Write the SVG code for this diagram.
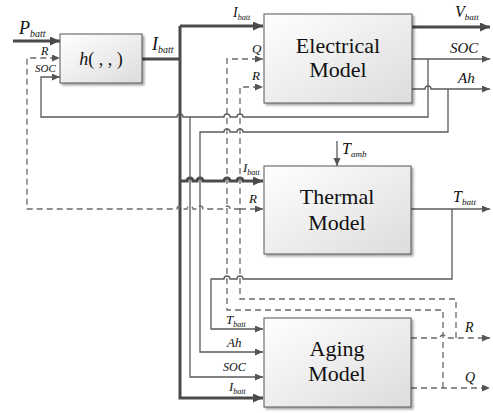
<svg xmlns="http://www.w3.org/2000/svg" width="493" height="413" viewBox="0 0 493 413">
<defs>
<linearGradient id="boxfill" x1="0" y1="0" x2="1" y2="1">
<stop offset="0" stop-color="#ffffff"/>
<stop offset="1" stop-color="#dcdcdc"/>
</linearGradient>
<filter id="shadow" x="-10%" y="-10%" width="130%" height="130%">
<feDropShadow dx="2" dy="2" stdDeviation="1" flood-color="#000" flood-opacity="0.35"/>
</filter>
<marker id="arr" markerUnits="userSpaceOnUse" markerWidth="9" markerHeight="8" refX="8" refY="3.5" orient="auto">
<path d="M0,0 L8,3.5 L0,7 Z" fill="#555"/>
</marker>
<marker id="arrT" markerUnits="userSpaceOnUse" markerWidth="12" markerHeight="10" refX="10" refY="4.5" orient="auto">
<path d="M0,0 L10,4.5 L0,9 Z" fill="#4a4a4a"/>
</marker>
</defs>
<style>
.box{fill:url(#boxfill);stroke:#555;stroke-width:1;filter:url(#shadow)}
.thin{fill:none;stroke:#5a5a5a;stroke-width:1.3}
.thick{fill:none;stroke:#4a4a4a;stroke-width:3}
.dash{fill:none;stroke:#6a6a6a;stroke-width:1.3;stroke-dasharray:6,4}
.a{marker-end:url(#arr)}
.at{marker-end:url(#arrT)}
text{font-family:"Liberation Serif","Times New Roman",serif;fill:#111}
.it{font-style:italic}
.big{font-size:22px;text-anchor:middle}
</style>

<g id="connectors">
<path class="thick at" d="M13,41 H60"/>
<path class="thick" d="M142,59 H180"/>
<path class="thick at" d="M180,26 H263"/>
<path class="thick at" d="M180,26 V398 H263"/>
<path class="thick at" d="M180,181 H187 A3,3 0 0 1 193,181 H197 A3,3 0 0 1 203,181 H224 A3,3 0 0 1 230,181 H237 A3,3 0 0 1 243,181 H263"/>
<path class="thick at" d="M412,27 H490"/>
<path class="thin a" d="M412,59 H490"/>
<path class="thin a" d="M428,59 V117 H243 A3,3 0 0 0 237,117 H230 A3,3 0 0 0 224,117 H183 A3,3 0 0 0 177,117 H41 V77 H60"/>
<path class="thin a" d="M190,117 V377 H263"/>
<path class="thin a" d="M412,89 H425 A3,3 0 0 1 431,89 H490"/>
<path class="thin a" d="M448,89 V132 H243 A3,3 0 0 0 237,132 H230 A3,3 0 0 0 224,132 H200 V352 H263"/>
<path class="thin a" d="M411,209 H490"/>
<path class="thin a" d="M452,209 V279 H243 A3,3 0 0 0 237,279 H230 A3,3 0 0 0 224,279 H211 V329 H263"/>
<path class="thin a" d="M337,141 V166"/>
<path class="dash a" d="M411,388 H490"/>
<path class="dash a" d="M443,388 V310 H227 V59 H263"/>
<path class="dash a" d="M411,338 H440 A3,3 0 0 1 446,338 H490"/>
<path class="dash a" d="M456,338 V299 H240 V87 H263"/>
<path class="dash a" d="M240,209 H263"/>
<path class="dash a" d="M240,209 H230 A3,3 0 0 0 224,209 H203 A3,3 0 0 0 197,209 H193 A3,3 0 0 0 187,209 H183 A3,3 0 0 0 177,209 H27 V58 H60"/>
</g>

<g id="h-block">
<rect class="box" x="60" y="34" width="82" height="49"/>
<text x="101" y="65" font-size="18" text-anchor="middle"><tspan class="it">h</tspan>( , , )</text>
</g>

<g id="electrical-model">
<rect class="box" x="264" y="14" width="148" height="89"/>
<text class="big" x="338" y="53">Electrical</text>
<text class="big" x="338" y="77">Model</text>
</g>

<g id="thermal-model">
<rect class="box" x="264" y="166" width="147" height="88"/>
<text class="big" x="337" y="204">Thermal</text>
<text class="big" x="337" y="230">Model</text>
</g>

<g id="aging-model">
<rect class="box" x="264" y="318" width="147" height="89"/>
<text class="big" x="337" y="356">Aging</text>
<text class="big" x="337" y="381">Model</text>
</g>

<g id="labels">
<text x="19" y="34" font-size="18" class="it">P<tspan font-size="10" dy="3">batt</tspan></text>
<text x="41" y="55" font-size="12" class="it">R</text>
<text x="35" y="72" font-size="11" class="it">SOC</text>
<text x="152" y="50" font-size="18" class="it">I<tspan font-size="10" dy="3">batt</tspan></text>
<text x="233" y="17" font-size="14" class="it">I<tspan font-size="8" dy="3">batt</tspan></text>
<text x="252" y="53" font-size="13" class="it">Q</text>
<text x="252" y="80" font-size="13" class="it">R</text>
<text x="455" y="17" font-size="16" class="it">V<tspan font-size="9" dy="3">batt</tspan></text>
<text x="450" y="53" font-size="15" class="it">SOC</text>
<text x="458" y="83" font-size="15" class="it">Ah</text>
<text x="342" y="154" font-size="16" class="it">T<tspan font-size="9" dy="3">amb</tspan></text>
<text x="243" y="172" font-size="13" class="it">I<tspan font-size="8" dy="3">batt</tspan></text>
<text x="249" y="203" font-size="13" class="it">R</text>
<text x="453" y="202" font-size="16" class="it">T<tspan font-size="9" dy="3">batt</tspan></text>
<text x="226" y="324" font-size="13" class="it">T<tspan font-size="8" dy="3">batt</tspan></text>
<text x="227" y="347" font-size="13" class="it">Ah</text>
<text x="223" y="371" font-size="12" class="it">SOC</text>
<text x="229" y="391" font-size="13" class="it">I<tspan font-size="8" dy="3">batt</tspan></text>
<text x="465" y="332" font-size="14" class="it">R</text>
<text x="465" y="382" font-size="14" class="it">Q</text>
</g>
</svg>
